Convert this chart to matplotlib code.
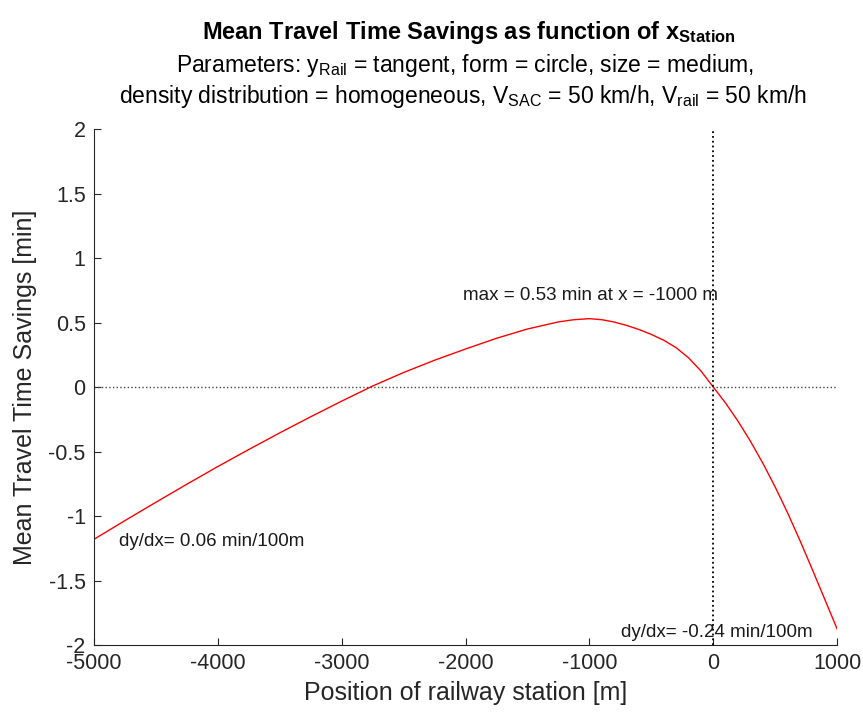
import numpy as np
import matplotlib
matplotlib.use('Agg')
import matplotlib.pyplot as plt

plt.rcParams['font.family'] = ['Liberation Sans', 'DejaVu Sans']
plt.rcParams['mathtext.fontset'] = 'custom'
plt.rcParams['mathtext.rm'] = 'Liberation Sans'
plt.rcParams['mathtext.it'] = 'Liberation Sans:italic'
plt.rcParams['mathtext.bf'] = 'Liberation Sans:bold'
plt.rcParams['axes.unicode_minus'] = False

# Position der Station [m] und mittlere Reisezeitersparnis [min]
x_station = [-5000, -4750, -4500, -4250, -4000, -3750, -3500, -3250, -3000, -2750,
             -2500, -2250, -2000, -1750, -1500, -1250, -1125, -1000, -900, -800,
             -700, -600, -500, -400, -300, -200, -100, 0, 100, 200, 300, 400,
             500, 600, 700, 800, 900, 1000]
savings = [-1.18, -1.035, -0.893, -0.753, -0.616, -0.484, -0.355, -0.23, -0.109, 0.008,
           0.113, 0.208, 0.295, 0.378, 0.45, 0.505, 0.522, 0.53, 0.522, 0.504,
           0.478, 0.446, 0.408, 0.363, 0.305, 0.227, 0.125, 0.0, -0.125, -0.265,
           -0.42, -0.59, -0.775, -0.975, -1.19, -1.415, -1.645, -1.875]

y_ticks = [-2, -1.5, -1, -0.5, 0, 0.5, 1, 1.5, 2]
y_ticklabels = ['-2', '-1.5', '-1', '-0.5', '0', '0.5', '1', '1.5', '2']
x_ticks = [-5000, -4000, -3000, -2000, -1000, 0, 1000]

# Beschriftungen
max_txt = 'max = 0.53 min at x = -1000 m'
slope_left_txt = 'dy/dx= 0.06 min/100m'
slope_right_txt = 'dy/dx= -0.24 min/100m'

fig = plt.figure(figsize=(8.63, 7.17), dpi=100)
ax = fig.add_axes([0.109, 0.1004, 0.861, 0.7196])

ax.plot(x_station, savings, color='red', lw=1.0)
ax.plot([x_ticks[0], x_ticks[-1]], [0, 0], linestyle=':', color='#444444', lw=1.0)
ax.plot([0, 0], [y_ticks[0], y_ticks[-1]], linestyle=':', color='black', lw=1.3)

ax.set_xlim(x_ticks[0], x_ticks[-1])
ax.set_ylim(y_ticks[0], y_ticks[-1])
ax.set_xticks(x_ticks)
ax.set_xticklabels([str(v) for v in x_ticks])
ax.set_yticks(y_ticks)
ax.set_yticklabels(y_ticklabels)
ax.tick_params(direction='in', length=5, width=0.8, labelsize=15.5, colors='#262626', pad=6)
for s in ['top', 'right']:
    ax.spines[s].set_visible(False)
for s in ['left', 'bottom']:
    ax.spines[s].set_color('#262626')

ax.set_xlabel('Position of railway station [m]', fontsize=18, color='#262626', labelpad=5)
ax.set_ylabel('Mean Travel Time Savings [min]', fontsize=18, color='#262626', labelpad=8)

ax.text(-2020, 0.71, max_txt, fontsize=13.5, va='center', ha='left', color='#1a1a1a')
ax.text(-4800, -1.20, slope_left_txt, fontsize=13.5, va='center', ha='left', color='#1a1a1a')
ax.text(-745, -1.90, slope_right_txt, fontsize=13.5, va='center', ha='left', color='#1a1a1a')

# Titel in drei Zeilen
fig.text(0.543, 0.954, r'Mean Travel Time Savings as function of $\mathbf{x_{Station}}$',
         fontsize=17, fontweight='bold', ha='center', va='center')
fig.text(0.539, 0.909, r'Parameters: $\mathregular{y_{Rail}}$ = tangent, form = circle, size = medium,',
         fontsize=16.5, ha='center', va='center')
fig.text(0.537, 0.865, r'density distribution = homogeneous, $\mathregular{V_{SAC}}$ = 50 km/h, $\mathregular{V_{rail}}$ = 50 km/h',
         fontsize=16.5, ha='center', va='center')

fig.savefig('out.png', dpi=100)
